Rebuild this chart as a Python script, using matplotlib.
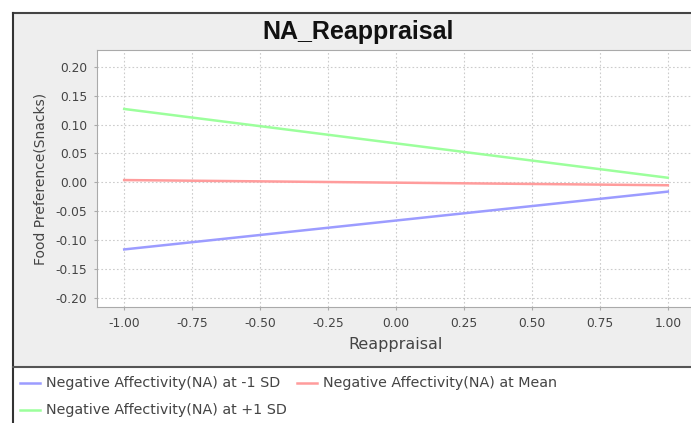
import matplotlib
matplotlib.use("Agg")
import matplotlib.pyplot as plt
from matplotlib.lines import Line2D
from matplotlib.patches import Rectangle

# --- Daten ---------------------------------------------------------------
x_werte = [-1.0, 1.0]
na_minus_sd = [-0.116, -0.016]
na_mean = [0.004, -0.005]
na_plus_sd = [0.127, 0.008]
labels = ["Negative Affectivity(NA) at -1 SD",
          "Negative Affectivity(NA) at Mean",
          "Negative Affectivity(NA) at +1 SD"]
farben = ["#9c9cff", "#ff9c9c", "#9cff9c"]
x_ticks = [-1.0, -0.75, -0.5, -0.25, 0.0, 0.25, 0.5, 0.75, 1.0]
y_ticks = [0.20, 0.15, 0.10, 0.05, 0.00, -0.05, -0.10, -0.15, -0.20]

plt.rcParams["font.family"] = ["DejaVu Sans"]

W, H = 691, 423
fig = plt.figure(figsize=(W / 100, H / 100), dpi=100)
fig.patch.set_facecolor("white")

def px(x0, y0, x1, y1):
    return [x0 / W, 1 - y1 / H, (x1 - x0) / W, (y1 - y0) / H]

# grauer Hintergrund + Rahmen
fig.add_artist(Rectangle((13 / W, 1 - 366 / H), 1, (366 - 14) / H,
                         transform=fig.transFigure, facecolor="#eeeeee",
                         edgecolor="none", zorder=0))
fig.add_artist(Line2D([12.5 / W, 1], [1 - 13.5 / H] * 2, transform=fig.transFigure,
                      color="#444444", lw=1.5))
fig.add_artist(Line2D([12.5 / W] * 2, [0, 1 - 13.5 / H], transform=fig.transFigure,
                      color="#333333", lw=1.5))
fig.add_artist(Line2D([12.5 / W, 1], [1 - 366.5 / H] * 2, transform=fig.transFigure,
                      color="#555555", lw=1.5))

ax = fig.add_axes(px(97, 50, 695, 307))
ax.set_facecolor("white")
ax.plot(x_werte, na_minus_sd, color=farben[0], lw=1.8)
ax.plot(x_werte, na_mean, color=farben[1], lw=1.8)
ax.plot(x_werte, na_plus_sd, color=farben[2], lw=1.8)

ax.set_xlim(-1.1, 1.1)
ax.set_ylim(-0.2156, 0.229)
ax.set_xticks(x_ticks)
ax.set_yticks(y_ticks)
ax.set_xticklabels([f"{v:.2f}" for v in x_ticks])
ax.set_yticklabels([f"{v:.2f}" for v in y_ticks])
ax.tick_params(labelsize=8.8, colors="#aaaaaa", labelcolor="#444444",
               length=2, width=0.8, pad=5)
ax.grid(True, color="#cccccc", ls=(0, (1.5, 2)), lw=0.8)
for s in ax.spines.values():
    s.set_color("#aaaaaa")
    s.set_linewidth(0.8)

ax.set_xlabel("Reappraisal", fontsize=11.5, color="#444444", labelpad=5)
ax.set_ylabel("Food Preference(Snacks)", fontsize=10, color="#444444", labelpad=6)

fig.text(358 / W, 1 - 32 / H, "NA_Reappraisal", fontsize=18, fontweight="bold",
         family="Liberation Sans", ha="center", va="center", color="#111111")

# Legende
leg_pos = [(20, 383), (297, 383), (20, 410)]
for (lx, ly), lab, c in zip(leg_pos, labels, farben):
    fig.add_artist(Line2D([lx / W, (lx + 20) / W], [1 - ly / H] * 2,
                          transform=fig.transFigure, color=c, lw=1.8))
    fig.text((lx + 26) / W, 1 - ly / H, lab, fontsize=10.3, color="#444444",
             ha="left", va="center")

fig.savefig("out.png", dpi=100)
